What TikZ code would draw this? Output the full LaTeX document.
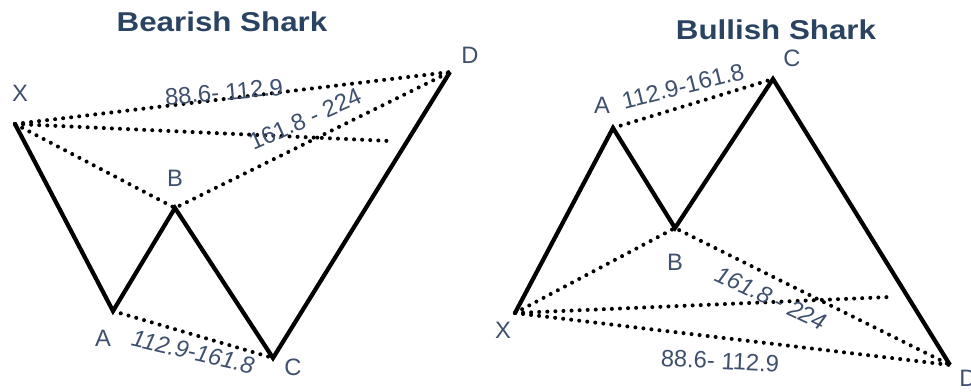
\documentclass[tikz,border=0pt]{standalone}
\usepackage{fontspec}
\setmainfont{Liberation Sans}
\definecolor{tieude}{RGB}{43,67,99}
\definecolor{chu}{RGB}{62,80,110}
\tikzset{
  song/.style={line width=2.4pt, line join=miter, black},
  cham/.style={line width=2.3pt, dash pattern=on 0pt off 4.6pt, line cap=round, black},
  dinh/.style={text=chu, font=\fontsize{13.5}{14}\selectfont, inner sep=0pt},
  tyle/.style={text=chu, font=\fontsize{13.5}{14}\selectfont, inner sep=0pt},
  tieudechu/.style={text=tieude, font=\fontsize{15.5}{16}\selectfont\bfseries, xscale=1.15, inner sep=0pt}
}
\begin{document}
\begin{tikzpicture}[x=0.02cm, y=-0.02cm]
    \useasboundingbox (0,0) rectangle (971,392);

    % Mô hình giảm (Bearish)
    \node[tieudechu] (t1) at (222,22) {Bearish Shark};
    \coordinate (X1) at (15,124);
    \coordinate (A1) at (113,311);
    \coordinate (B1) at (175,208);
    \coordinate (C1) at (273,358);
    \coordinate (D1) at (450,72);
    \coordinate (E1) at (390,141);

    \draw[cham] (X1) -- (D1);
    \draw[cham] (X1) -- (E1);
    \draw[cham] (X1) -- (B1) -- (D1);
    \draw[cham] (A1) -- (C1);
    \draw[song] (X1) -- (A1) -- (B1) -- (C1) -- (D1);

    \node[dinh] (lX1) at (20,93) {X};
    \node[dinh] (lA1) at (103,338) {A};
    \node[dinh] (lB1) at (175,178) {B};
    \node[dinh] (lC1) at (293,367) {C};
    \node[dinh] (lD1) at (470,55) {D};

    \node[tyle, rotate=5] (r11) at (224,92) {88.6- 112.9};
    \node[tyle, rotate=24] (r12) at (305,119) {161.8 - 224};
    \node[tyle, rotate=-13, font=\fontsize{13.5}{14}\selectfont\itshape] (r13) at (193,352) {112.9-161.8};

    % Mô hình tăng (Bullish)
    \node[tieudechu] (t2) at (776,30) {Bullish Shark};
    \coordinate (X2) at (515,313);
    \coordinate (A2) at (613,128);
    \coordinate (B2) at (675,228);
    \coordinate (C2) at (773,79);
    \coordinate (D2) at (950,365);
    \coordinate (E2) at (890,297);

    \draw[cham] (X2) -- (D2);
    \draw[cham] (X2) -- (E2);
    \draw[cham] (X2) -- (B2) -- (D2);
    \draw[cham] (A2) -- (C2);
    \draw[song] (X2) -- (A2) -- (B2) -- (C2) -- (D2);

    \node[dinh] (lX2) at (503,330) {X};
    \node[dinh] (lA2) at (602,105) {A};
    \node[dinh] (lB2) at (675,262) {B};
    \node[dinh] (lC2) at (792,58) {C};
    \node[dinh] (lD2) at (968,378) {D};

    \node[tyle, rotate=14] (r21) at (683,86) {112.9-161.8};
    \node[tyle, rotate=-25, font=\fontsize{13.5}{14}\selectfont\itshape] (r22) at (771,298) {161.8 - 224};
    \node[tyle, rotate=-3] (r23) at (720,361) {88.6- 112.9};
\end{tikzpicture}
\end{document}
